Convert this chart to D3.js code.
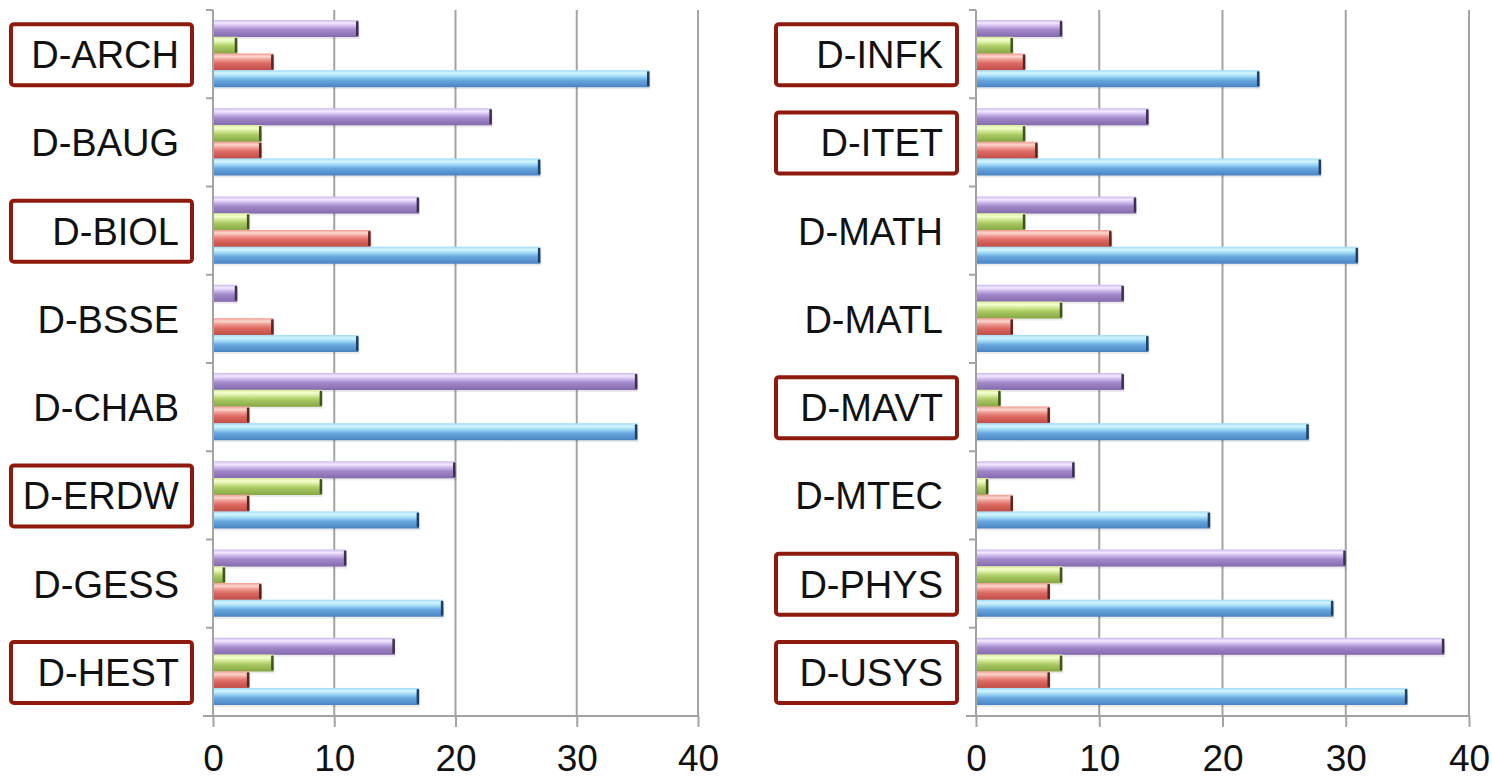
<!DOCTYPE html>
<html>
<head>
<meta charset="utf-8">
<script src="https://cdn.jsdelivr.net/npm/d3@7"></script>
<style>
  body { margin: 0; background: #fff; }
  svg text { font-family: "Liberation Sans", Arial, sans-serif; fill: #111; }
</style>
</head>
<body>
<svg id="chart" width="1492" height="782"></svg>
<script>
// --- data ---
const seriesKeys = ["purple", "green", "red", "blue"];   // top to bottom inside each group
const xTicks = [0, 10, 20, 30, 40];

const leftDepts = ["D-ARCH", "D-BAUG", "D-BIOL", "D-BSSE", "D-CHAB", "D-ERDW", "D-GESS", "D-HEST"];
const leftPurple = [12, 23, 17, 2, 35, 20, 11, 15];
const leftGreen  = [2, 4, 3, 0, 9, 9, 1, 5];
const leftRed    = [5, 4, 13, 5, 3, 3, 4, 3];
const leftBlue   = [36, 27, 27, 12, 35, 17, 19, 17];
const leftBoxed  = ["D-ARCH", "D-BIOL", "D-ERDW", "D-HEST"];

const rightDepts = ["D-INFK", "D-ITET", "D-MATH", "D-MATL", "D-MAVT", "D-MTEC", "D-PHYS", "D-USYS"];
const rightPurple = [7, 14, 13, 12, 12, 8, 30, 38];
const rightGreen  = [3, 4, 4, 7, 2, 1, 7, 7];
const rightRed    = [4, 5, 11, 3, 6, 3, 6, 6];
const rightBlue   = [23, 28, 31, 14, 27, 19, 29, 35];
const rightBoxed  = ["D-INFK", "D-ITET", "D-MAVT", "D-PHYS", "D-USYS"];

// colour ramps for the glossy bars: [highlight, light, mid, dark]
const barColors = {
  purple: ["#f4e8ff", "#cdb8ec", "#a287c8", "#8469ad"],
  green:  ["#f6ffd0", "#d4ea98", "#a9c962", "#86a645"],
  red:    ["#fbd6cf", "#f09a90", "#dc6a62", "#bf4d46"],
  blue:   ["#d4f5ff", "#9fdaf6", "#68a8de", "#4a82c2"],
};
const capColors = { purple: "#3b2f52", green: "#3f5220", red: "#5a2420", blue: "#1f3d66" };

const svg = d3.select("#chart");
const defs = svg.append("defs");

seriesKeys.forEach((k) => {
  const g = defs.append("linearGradient")
    .attr("id", "grad-" + k)
    .attr("x1", 0).attr("y1", 0).attr("x2", 0).attr("y2", 1);
  const c = barColors[k];
  g.append("stop").attr("offset", "0%").attr("stop-color", c[1]);
  g.append("stop").attr("offset", "18%").attr("stop-color", c[0]);
  g.append("stop").attr("offset", "36%").attr("stop-color", c[1]);
  g.append("stop").attr("offset", "58%").attr("stop-color", c[2]);
  g.append("stop").attr("offset", "100%").attr("stop-color", c[3]);
});

const yTop = 10, yBottom = 716;

function drawPanel(cfg) {
  const rows = cfg.depts.map((d, i) => ({
    dept: d,
    purple: cfg.purple[i], green: cfg.green[i], red: cfg.red[i], blue: cfg.blue[i],
  }));

  const x = d3.scaleLinear().domain([0, 40]).range([cfg.x0, cfg.x1]);
  const y = d3.scaleBand().domain(cfg.depts).range([yTop, yBottom]);
  const inner = d3.scaleBand().domain(seriesKeys)
    .range([10, y.bandwidth() - 11]).paddingInner(-0.02);

  const g = svg.append("g");

  // vertical gridlines
  g.append("g").selectAll("line")
    .data(xTicks.slice(1))
    .join("line")
    .attr("x1", (d) => x(d)).attr("x2", (d) => x(d))
    .attr("y1", yTop).attr("y2", yBottom)
    .attr("stroke", "#a3a3a3").attr("stroke-width", 2);

  // bars
  const groups = g.append("g").selectAll("g")
    .data(rows)
    .join("g")
    .attr("transform", (d) => `translate(0,${y(d.dept)})`);

  const bars = groups.selectAll("g")
    .data((d) => seriesKeys.map((k) => ({ key: k, value: d[k] })).filter((b) => b.value > 0))
    .join("g");

  // soft shadow under each bar
  bars.append("rect")
    .attr("x", x(0) + 1)
    .attr("y", (d) => inner(d.key) + 2)
    .attr("width", (d) => x(d.value) - x(0))
    .attr("height", inner.bandwidth())
    .attr("fill", "#000").attr("opacity", 0.08);

  bars.append("rect")
    .attr("x", x(0))
    .attr("y", (d) => inner(d.key))
    .attr("width", (d) => x(d.value) - x(0))
    .attr("height", inner.bandwidth())
    .attr("fill", (d) => `url(#grad-${d.key})`);

  // dark end cap
  bars.append("rect")
    .attr("x", (d) => x(d.value) - 2.5)
    .attr("y", (d) => inner(d.key) + 1)
    .attr("width", 2.5)
    .attr("height", inner.bandwidth() - 2)
    .attr("rx", 1)
    .attr("fill", (d) => capColors[d.key]);

  // value axis at bottom
  const xAxis = d3.axisBottom(x).tickValues(xTicks).tickSize(11).tickPadding(18).tickSizeOuter(0);
  const ax = g.append("g").attr("transform", `translate(0,${yBottom})`).call(xAxis);
  ax.select(".domain").remove();
  ax.append("line")
    .attr("x1", x(0) - 10).attr("x2", x(40))
    .attr("stroke", "#a3a3a3").attr("stroke-width", 2);
  ax.selectAll(".tick line").attr("stroke", "#a3a3a3").attr("stroke-width", 2);
  ax.selectAll(".tick text")
    .attr("font-size", 37)
    .attr("font-family", '"Liberation Sans", Arial, sans-serif')
    .attr("fill", "#111");

  // category axis on the left
  const yAxis = d3.axisLeft(y).tickSize(0).tickFormat("");
  const ay = g.append("g").attr("transform", `translate(${x(0)},0)`).call(yAxis);
  ay.select(".domain").remove();
  ay.append("line")
    .attr("y1", yTop).attr("y2", yBottom)
    .attr("stroke", "#a3a3a3").attr("stroke-width", 2);
  ay.append("g").selectAll("line")
    .data(cfg.depts)
    .join("line")
    .attr("x1", -7).attr("x2", 0)
    .attr("y1", (d) => y(d)).attr("y2", (d) => y(d))
    .attr("stroke", "#a3a3a3").attr("stroke-width", 2);

  // category labels
  g.append("g").selectAll("text")
    .data(cfg.depts)
    .join("text")
    .attr("x", cfg.labelRight)
    .attr("y", (d) => y(d) + y.bandwidth() / 2 + 1)
    .attr("text-anchor", "end")
    .attr("dominant-baseline", "central")
    .attr("font-size", 38)
    .text((d) => d);

  // red outline boxes round the highlighted departments
  g.append("g").selectAll("rect")
    .data(cfg.boxed)
    .join("rect")
    .attr("x", cfg.boxX)
    .attr("y", (d) => y(d) + y.bandwidth() / 2 - 30)
    .attr("width", 181)
    .attr("height", 61)
    .attr("rx", 3)
    .attr("fill", "none")
    .attr("stroke", "#8e1a0d")
    .attr("stroke-width", 4);
}

drawPanel({
  depts: leftDepts, purple: leftPurple, green: leftGreen, red: leftRed, blue: leftBlue,
  boxed: leftBoxed, x0: 213, x1: 698, labelRight: 179, boxX: 11,
});

drawPanel({
  depts: rightDepts, purple: rightPurple, green: rightGreen, red: rightRed, blue: rightBlue,
  boxed: rightBoxed, x0: 976, x1: 1469, labelRight: 943, boxX: 776,
});
</script>
</body>
</html>
